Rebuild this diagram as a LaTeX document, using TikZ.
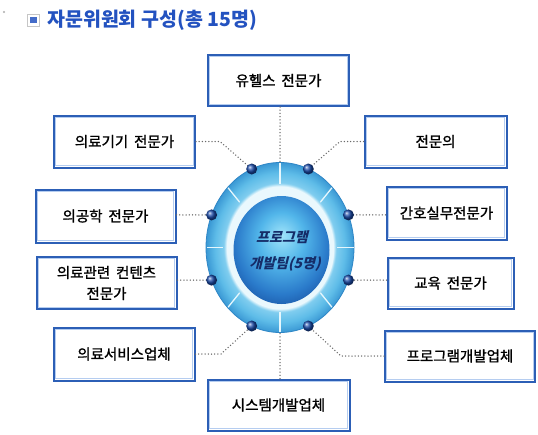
\documentclass[tikz,border=0pt]{standalone}
\usepackage{fontspec}
\usetikzlibrary{calc,shadows}
\newfontfamily\kr[FakeBold=1.2,WordSpace=1.8]{Noto Sans CJK KR}
\newfontfamily\krt{Noto Sans CJK KR}
\newfontfamily\krsl[FakeSlant=0.25]{Noto Sans CJK KR}
\definecolor{boxblue}{HTML}{2C5FB6}
\definecolor{boxinner}{HTML}{B5CDF0}
\definecolor{shadowc}{HTML}{4A5262}
\definecolor{titleblue}{HTML}{2352C0}
\definecolor{connc}{HTML}{6A6A6A}
\definecolor{rimblue}{HTML}{2E86C6}
\definecolor{bandOut}{HTML}{3A98D4}
\definecolor{bandMid}{HTML}{5EBCE8}
\definecolor{bandIn}{HTML}{80CDEF}
\definecolor{ringwhite}{HTML}{EAF8FD}
\definecolor{sphA}{HTML}{A0E4FA}
\definecolor{sphB}{HTML}{52B6EA}
\definecolor{sphC}{HTML}{2A7ACA}
\definecolor{sphD}{HTML}{154C9C}
\definecolor{dotblue}{HTML}{1A4AA8}
\definecolor{navytext}{HTML}{152C68}
\pgfdeclareradialshading{bandshade}{\pgfpoint{0bp}{0bp}}{color(0bp)=(ringwhite); color(18bp)=(ringwhite); color(19bp)=(bandIn); color(22bp)=(bandMid); color(25bp)=(bandOut); color(50bp)=(bandOut)}
\pgfdeclareradialshading{sphereshade}{\pgfpoint{0bp}{7bp}}{color(0bp)=(sphA); color(12bp)=(sphB); color(24bp)=(sphC); color(33bp)=(sphD); color(50bp)=(sphD)}
\tikzset{
  kbox/.style={draw=boxblue, line width=2pt, fill=white, inner sep=2pt,
    font=\kr\fontsize{14.5}{21}\selectfont, align=center, text=black,
    drop shadow={shadow xshift=1.4pt, shadow yshift=-1.4pt, fill=shadowc, opacity=1},
    path picture={\draw[boxinner, line width=0.9pt]
      ([shift={(1.9pt,-1.9pt)}]path picture bounding box.north west) rectangle
      ([shift={(-1.9pt,1.9pt)}]path picture bounding box.south east);}},
  conn/.style={draw=connc, line width=1.5pt, dash pattern=on 0pt off 3.2pt, line cap=round},
  dotball/.style={circle, minimum size=11pt, inner sep=0pt, shade, ball color=dotblue},
  divider/.style={draw=white!90!cyan, line width=1.3pt},
  centertext/.style={font=\krsl\bfseries\fontsize{14}{16}\selectfont, text=navytext, inner sep=0pt}
}
\begin{document}
\begin{tikzpicture}[x=1pt,y=-1pt]
\useasboundingbox (0,0) rectangle (538,434);
\fill[white] (0,0) rectangle (538,434);

% title
\node[circle, fill=gray!65, minimum size=2.2pt, inner sep=0pt] (bul) at (4,12) {};
\node[draw=gray!45, fill=white, line width=0.9pt, minimum size=12pt, inner sep=0pt] (icon) at (33.5,20) {};
\node[fill=titleblue!85, minimum size=6.5pt, inner sep=0pt] (iconin) at (icon.center) {};
\node[anchor=west, inner sep=0pt, font=\krt\bfseries\fontsize{19.5}{21}\selectfont, text=titleblue] (title) at (47,20) {자문위원회 구성(총 15명)};

% ring geometry
\coordinate (c) at (280,247.5);
\coordinate (rtop) at (280,162.5);
\coordinate (rbot) at (280,332.5);
\coordinate (sph) at (281.5,250);

% boxes
\node[kbox, minimum width=141pt, minimum height=51pt] (yuhel) at (278.5,80.5) {유헬스 전문가};
\node[kbox, minimum width=141pt, minimum height=52pt] (gigi) at (124.5,141.5) {의료기기 전문가};
\node[kbox, minimum width=142pt, minimum height=52pt] (jeonmun) at (435.5,141.5) {전문의};
\node[kbox, minimum width=140pt, minimum height=53pt] (gonghak) at (105.5,216) {의공학 전문가};
\node[kbox, minimum width=120pt, minimum height=53pt] (ganho) at (446.5,213) {간호실무전문가};
\node[kbox, minimum width=140pt, minimum height=52pt] (gwallyeon) at (106.5,283) {의료관련 컨텐츠\\전문가};
\node[kbox, minimum width=126pt, minimum height=51pt] (gyoyuk) at (450.5,283) {교육 전문가};
\node[kbox, minimum width=141pt, minimum height=53pt] (service) at (124,354) {의료서비스업체};
\node[kbox, minimum width=150pt, minimum height=51pt] (progdev) at (460,356) {프로그램개발업체};
\node[kbox, minimum width=142pt, minimum height=51pt] (system) at (278.5,405) {시스템개발업체};

% bend points
\coordinate (bUL) at (220,141.5);
\coordinate (bUR) at (340,141.5);
\coordinate (bLL) at (221,354);
\coordinate (bLR) at (341,356);

% dot positions
\coordinate (pUL) at (251.7,169);
\coordinate (pUR) at (308.3,169);
\coordinate (pR1) at (348.4,214.9);
\coordinate (pR2) at (348.4,280.1);
\coordinate (pLR) at (308.3,326);
\coordinate (pLL) at (251.7,326);
\coordinate (pL2) at (211.6,280.1);
\coordinate (pL1) at (211.6,214.9);

% connectors
\draw[conn] (rtop |- yuhel.south) -- (rtop);
\draw[conn] (gigi.east) -- (bUL) -- (pUL);
\draw[conn] (jeonmun.west) -- (bUR) -- (pUR);
\draw[conn] (pL1 -| gonghak.east) -- (pL1);
\draw[conn] (pR1 -| ganho.west) -- (pR1);
\draw[conn] (pL2 -| gwallyeon.east) -- (pL2);
\draw[conn] (pR2 -| gyoyuk.west) -- (pR2);
\draw[conn] (service.east) -- (bLL) -- (pLL);
\draw[conn] (progdev.west) -- (bLR) -- (pLR);
\draw[conn] (rbot |- system.north) -- (rbot);

% ring
\path[shading=bandshade] (c) ellipse [x radius=74, y radius=85];
\draw[rimblue, line width=0.8pt] (c) ellipse [x radius=74, y radius=85];
\foreach \a in {0,45,...,315}
  \draw[divider] ($(c)+({57*cos(\a)},{64*sin(\a)})$) -- ($(c)+({73.5*cos(\a)},{84.5*sin(\a)})$);
\fill[ringwhite] (sph) ellipse [x radius=52.5, y radius=58.5];
\path[shading=sphereshade] (sph) ellipse [x radius=48, y radius=54];

\node[centertext] (t1) at (282,237) {프로그램};
\node[centertext] (t2) at (285,264) {개발팀(5명)};

% dots
\node[dotball] (dUL) at (pUL) {};
\node[dotball] (dUR) at (pUR) {};
\node[dotball] (dR1) at (pR1) {};
\node[dotball] (dR2) at (pR2) {};
\node[dotball] (dLR) at (pLR) {};
\node[dotball] (dLL) at (pLL) {};
\node[dotball] (dL2) at (pL2) {};
\node[dotball] (dL1) at (pL1) {};
\end{tikzpicture}
\end{document}
